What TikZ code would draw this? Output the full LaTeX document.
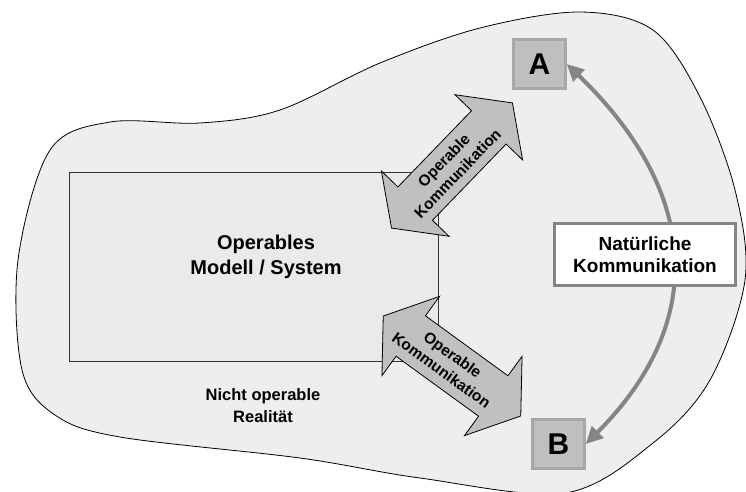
\documentclass[tikz,border=0pt]{standalone}
\usepackage{fontspec}
\setmainfont{Liberation Sans}
\usetikzlibrary{arrows.meta}

\definecolor{blobgray}{HTML}{EEEEEE}
\definecolor{modelgray}{HTML}{EAEAEA}
\definecolor{opgray}{HTML}{C0C0C0}
\definecolor{letgray}{HTML}{BFBFBF}
\definecolor{letedge}{HTML}{A8A8A8}
\definecolor{natgray}{HTML}{858585}

\begin{document}
\begin{tikzpicture}[x=1pt, y=-1pt,
    bigtxt/.style={font=\fontsize{20}{25}\selectfont\bfseries, align=center},
    optxt/.style={font=\fontsize{15.5}{19}\selectfont\bfseries, align=center, inner sep=0},
    letterbox/.style={draw=letedge, line width=2.5pt, fill=letgray, minimum width=52pt,
        minimum height=49pt, inner sep=0, font=\fontsize{30}{30}\selectfont\bfseries},
    oparrow/.style={draw=black, line width=0.8pt, fill=opgray, line join=miter}]
    \useasboundingbox (0,0) rectangle (746,491);
    \draw[line width=0.8pt, fill=blobgray] plot[smooth cycle, tension=0.55] coordinates {
        (120,437) (300,458) (420,478) (565,493) (653,443) (710,380) (745,280)
        (735,190) (700,97) (653,30) (580,12) (480,28) (380,63) (280,110)
        (200,123) (110,122) (50,150) (18,260) (22,370) (55,415)};
    \node[draw=black!80, line width=0.8pt, fill=modelgray, minimum width=369pt,
        minimum height=189pt, inner sep=0] (model) at (253.5,266.5) {};
    \node[bigtxt] (modeltxt) at (266,257) {Operables\\Modell / System};
    \node[font=\fontsize{16.5}{22}\selectfont\bfseries, align=center] (reality)
        at (263,406) {Nicht operable\\Realit\"at};
    \begin{scope}[shift={(452,165.5)}, rotate=46]
        \draw[oparrow] (-87,0) -- (-53,-47) -- (-53,-24) -- (53,-24) -- (53,-47)
            -- (87,0) -- (53,47) -- (53,24) -- (-53,24) -- (-53,47) -- cycle;
        \node[optxt, rotate=46] (opup) at (-2,0) {Operable\\Kommunikation};
    \end{scope}
    \begin{scope}[shift={(452,366)}, rotate=-36]
        \draw[oparrow] (-85,0) -- (-51,-49) -- (-51,-25) -- (51,-25) -- (51,-49)
            -- (85,0) -- (51,49) -- (51,25) -- (-51,25) -- (-51,49) -- cycle;
        \node[optxt, rotate=-36] (oplow) at (-6,0) {Operable\\Kommunikation};
    \end{scope}
    \node[letterbox] (A) at (539.5,64) {A};
    \node[letterbox] (B) at (558.5,444) {B};
    \draw[natgray, line width=4pt, {Triangle[length=17pt, width=16pt]}-{Triangle[length=17pt, width=16pt]}]
        (A.east) .. controls +(130,125) and +(125,-125) .. (B.east);
    \node[draw=natgray, line width=3.3pt, fill=white, minimum width=181pt,
        minimum height=62pt, font=\fontsize{19}{22}\selectfont\bfseries, align=center]
        (nat) at (645,254.5) {Nat\"urliche\\Kommunikation};
\end{tikzpicture}
\end{document}
